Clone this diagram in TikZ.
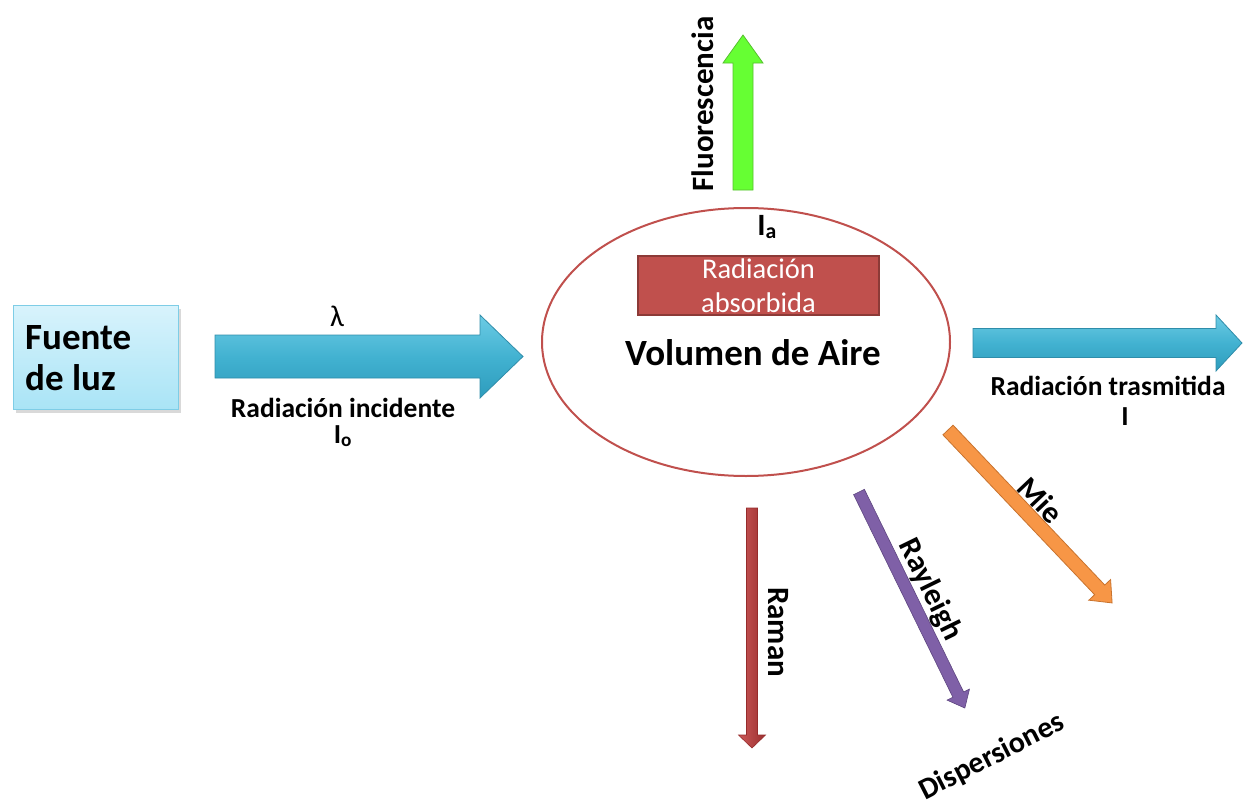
\documentclass[tikz,border=0pt]{standalone}
\usepackage{fontspec}
\setmainfont{Carlito}
\usetikzlibrary{shapes.geometric,shadows}
\definecolor{srctop}{HTML}{D8F3FC}
\definecolor{srcbot}{HTML}{A9E4F6}
\definecolor{srcline}{HTML}{7ECDE6}
\definecolor{bluetop}{HTML}{6CCBE4}
\definecolor{bluemid}{HTML}{42B2D1}
\definecolor{bluebot}{HTML}{2E9CBC}
\definecolor{blueline}{HTML}{2F8DAA}
\definecolor{ered}{HTML}{C0504D}
\definecolor{eredline}{HTML}{8C3A37}
\definecolor{fgreen}{HTML}{66FF33}
\definecolor{fgreenline}{HTML}{55C02E}
\definecolor{raman}{HTML}{C23B3B}
\definecolor{ramanline}{HTML}{962B2B}
\definecolor{rayl}{HTML}{7F60A7}
\definecolor{raylline}{HTML}{5E4680}
\definecolor{mie}{HTML}{F79646}
\definecolor{mieline}{HTML}{C8732E}
\tikzset{
  lbl/.style={font=\fontsize{27.5}{32}\selectfont\bfseries, inner sep=0pt},
  biglbl/.style={font=\fontsize{37}{41}\selectfont\bfseries, inner sep=0pt},
  rotlbl/.style={font=\fontsize{31}{34}\selectfont\bfseries, inner sep=0pt},
  srcbox/.style={draw=srcline, line width=1.2, top color=srctop, bottom color=srcbot,
     drop shadow={shadow xshift=2pt, shadow yshift=-3pt, opacity=0.3}},
  absbox/.style={draw=eredline, line width=1.2, fill=ered, text=white,
     font=\fontsize{28.5}{34}\selectfont, align=center, inner sep=0pt},
  volume/.style={draw=ered, line width=2, ellipse},
  bluearrow/.style={draw=blueline, line width=0.8, top color=bluetop, bottom color=bluebot, middle color=bluemid},
  greenarrow/.style={draw=fgreenline, line width=0.8, fill=fgreen},
  ramanarrow/.style={draw=ramanline, line width=0.6, left color=raman!85!white, right color=raman!80!black},
  raylarrow/.style={draw=raylline, line width=0.6, fill=rayl},
  miearrow/.style={draw=mieline, line width=0.8, fill=mie}
}
% #1 style, #2 start point, #3 angle, #4 length, #5 shaft half width, #6 head half width, #7 head length, #8 name
\newcommand\blockarrow[8]{%
  \begin{scope}[shift={#2}, rotate=#3]
    \coordinate (#8-s) at (0,0);
    \coordinate (#8-t) at (#4,0);
    \path[#1] (0,#5) -- ({#4-#7},#5) -- ({#4-#7},#6) -- (#4,0) -- ({#4-#7},-#6) -- ({#4-#7},-#5) -- (0,-#5) -- cycle;
  \end{scope}}
\begin{document}
\begin{tikzpicture}[x=1pt,y=-1pt]
\useasboundingbox (0,0) rectangle (1243,803);
% light source
\node[srcbox, minimum width=165, minimum height=104, anchor=north west] (src) at (13,305) {};
\node[biglbl, anchor=west, align=left] (srctxt) at (25,358) {Fuente\\de luz};
% incident radiation
\blockarrow{bluearrow}{(215,356.5)}{0}{308}{21.5}{41.5}{43}{inc}
\node[font=\fontsize{30}{34}\selectfont, inner sep=0pt, anchor=base] (lambda) at (337,326) {λ};
\node[lbl, anchor=base] (inclbl) at (343,417) {Radiación incidente};
\node[lbl, anchor=base] (io) at (343,443) {I\textsubscript{o}};
% air volume
\node[volume, minimum width=408, minimum height=268] (vol) at (746,342) {};
\node[absbox, minimum width=241, minimum height=59] (abs) at (758.5,285.5) {Radiación\\absorbida};
\node[rotlbl, anchor=base] (ia) at (767,235) {I\textsubscript{a}};
\node[biglbl, anchor=base] (voltxt) at (753,365) {Volumen de Aire};
% fluorescence
\blockarrow{greenarrow}{(743,190)}{90}{155}{10}{20}{28}{fluo}
\node[rotlbl, rotate=90, anchor=base] (fluolbl) at (713,104) {Fluorescencia};
% transmitted radiation
\blockarrow{bluearrow}{(973,343)}{0}{269}{14.5}{28}{26}{tra}
\node[lbl, anchor=base] (tralbl) at (1108,395) {Radiación trasmitida};
\node[lbl, anchor=base] (ilbl) at (1125,425) {I};
% Raman
\blockarrow{ramanarrow}{(752,508)}{-90}{240}{5.5}{13.5}{13}{ram}
\node[rotlbl, rotate=-90, anchor=base] (ramlbl) at (768,632) {Raman};
% Rayleigh
\blockarrow{raylarrow}{(859,492)}{-63.9}{240.6}{6}{12.5}{15}{ray}
\node[rotlbl, rotate=-63.9, anchor=center] (raylbl) at (930,590) {Rayleigh};
% Mie
\blockarrow{miearrow}{(948,430)}{-46.5}{238.4}{7}{15}{18}{mie}
\node[rotlbl, rotate=-46.5, anchor=center] (mielbl) at (1041,500) {Mie};
% dispersions
\node[font=\fontsize{30}{34}\selectfont\bfseries, inner sep=0pt, rotate=27] (disp) at (992,757) {Dispersiones};
\end{tikzpicture}
\end{document}
